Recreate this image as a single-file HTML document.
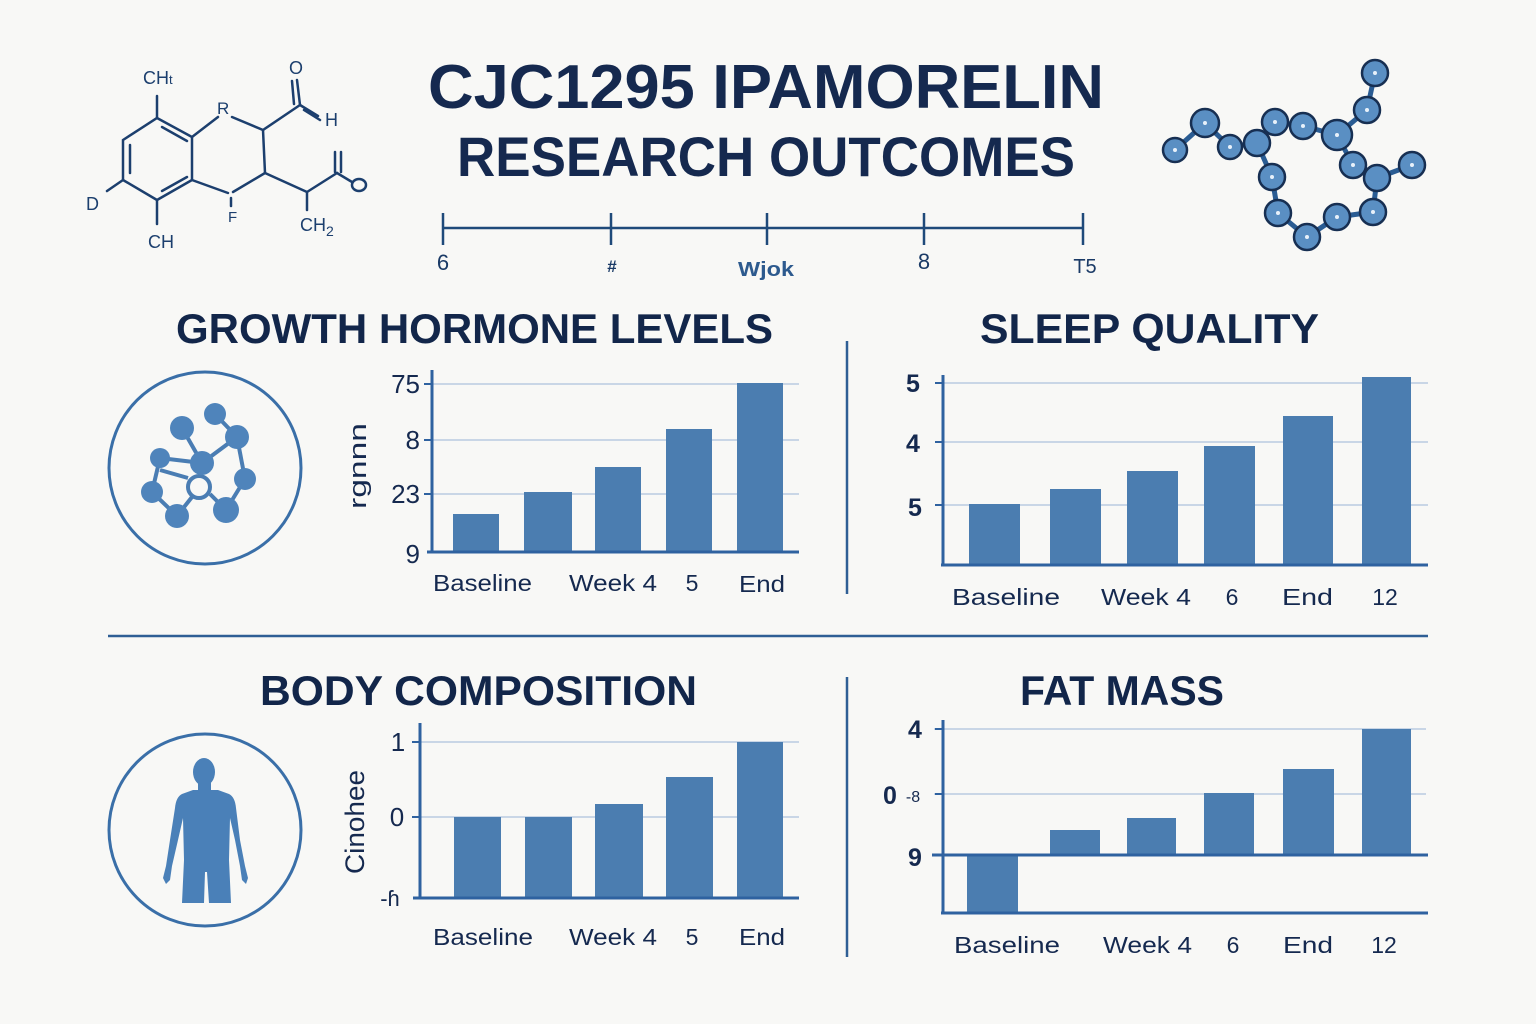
<!DOCTYPE html>
<html><head><meta charset="utf-8"><style>
html,body{margin:0;padding:0;background:#f8f8f6;}
svg{display:block;}
text{font-family:"Liberation Sans",sans-serif;}
</style></head><body>
<svg width="1536" height="1024" viewBox="0 0 1536 1024" xmlns="http://www.w3.org/2000/svg">
<rect width="1536" height="1024" fill="#f8f8f6"/>

<!-- Title -->
<text x="428" y="108" font-size="62" font-weight="bold" fill="#15294f" textLength="676" lengthAdjust="spacingAndGlyphs">CJC1295 IPAMORELIN</text>
<text x="457" y="176" font-size="56" font-weight="bold" fill="#15294f" textLength="618" lengthAdjust="spacingAndGlyphs">RESEARCH OUTCOMES</text>

<!-- Timeline -->
<g stroke="#1f4a7a" stroke-width="2.5" fill="none">
<line x1="443" y1="228" x2="1083" y2="228"/>
<line x1="443" y1="213" x2="443" y2="245"/>
<line x1="611" y1="213" x2="611" y2="245"/>
<line x1="767" y1="213" x2="767" y2="245"/>
<line x1="924" y1="213" x2="924" y2="245"/>
<line x1="1083" y1="213" x2="1083" y2="245"/>
</g>
<g fill="#1a3a66" font-size="22" text-anchor="middle">
<text x="443" y="270">6</text>
<text x="612" y="272" font-size="17" font-weight="bold">#</text>
<text x="766" y="276" font-size="20" font-weight="bold" fill="#2d5a8e" textLength="56" lengthAdjust="spacingAndGlyphs">Wjok</text>
<text x="924" y="269">8</text>
<text x="1085" y="273" font-size="20">T5</text>
</g>

<!-- Top-left structural formula -->
<g stroke="#1c3f6e" stroke-width="2.5" fill="none" stroke-linecap="round">
<polygon points="157,118 192,137 192,180 157,200 123,180 123,140"/>
<line x1="130" y1="145" x2="130" y2="173"/>
<line x1="162" y1="127" x2="187" y2="141"/>
<line x1="162" y1="191" x2="187" y2="177"/>
<line x1="157" y1="118" x2="157" y2="96"/>
<line x1="123" y1="180" x2="107" y2="191"/>
<line x1="157" y1="200" x2="157" y2="224"/>
<line x1="192" y1="137" x2="218" y2="117"/>
<line x1="232" y1="117" x2="263" y2="130"/>
<line x1="263" y1="130" x2="265" y2="173"/>
<line x1="265" y1="173" x2="233" y2="192"/>
<line x1="192" y1="180" x2="228" y2="193"/>
<line x1="231" y1="198" x2="231" y2="206"/>
<line x1="263" y1="130" x2="300" y2="105"/>
<line x1="300" y1="105" x2="297" y2="80"/>
<line x1="294" y1="104" x2="292" y2="81"/>
<line x1="300" y1="105" x2="318" y2="116"/>
<line x1="304" y1="110" x2="320" y2="120"/>
<line x1="265" y1="173" x2="307" y2="192"/>
<line x1="307" y1="192" x2="307" y2="210"/>
<line x1="307" y1="192" x2="337" y2="173"/>
<line x1="335" y1="172" x2="335" y2="152"/>
<line x1="341" y1="172" x2="341" y2="152"/>
<line x1="337" y1="173" x2="352" y2="182"/>
<ellipse cx="359" cy="185" rx="7" ry="6"/>
</g>
<g fill="#1c3f6e" font-size="18">
<text x="143" y="84">CH<tspan font-size="13">t</tspan></text>
<text x="217" y="114" font-size="17">R</text>
<text x="289" y="74">O</text>
<text x="325" y="126">H</text>
<text x="86" y="210">D</text>
<text x="148" y="248">CH</text>
<text x="228" y="222" font-size="15">F</text>
<text x="300" y="231">CH<tspan font-size="14" dy="5">2</tspan></text>
</g>

<!-- Top-right molecule -->
<g stroke="#2a5c93" stroke-width="5" stroke-linecap="round">
<line x1="1375" y1="73" x2="1367" y2="110"/>
<line x1="1367" y1="110" x2="1337" y2="135"/>
<line x1="1205" y1="123" x2="1175" y2="150"/>
<line x1="1205" y1="123" x2="1230" y2="147"/>
<line x1="1230" y1="147" x2="1257" y2="143"/>
<line x1="1257" y1="143" x2="1275" y2="122"/>
<line x1="1275" y1="122" x2="1303" y2="126"/>
<line x1="1303" y1="126" x2="1337" y2="135"/>
<line x1="1337" y1="135" x2="1353" y2="165"/>
<line x1="1353" y1="165" x2="1377" y2="178"/>
<line x1="1377" y1="178" x2="1412" y2="165"/>
<line x1="1377" y1="178" x2="1373" y2="212"/>
<line x1="1257" y1="143" x2="1272" y2="177"/>
<line x1="1272" y1="177" x2="1278" y2="213"/>
<line x1="1278" y1="213" x2="1307" y2="237"/>
<line x1="1307" y1="237" x2="1337" y2="217"/>
<line x1="1337" y1="217" x2="1373" y2="212"/>
</g>
<g fill="#5a8fc3" stroke="#172f52" stroke-width="2.5">
<circle cx="1375" cy="73" r="13"/>
<circle cx="1367" cy="110" r="13"/>
<circle cx="1205" cy="123" r="14"/>
<circle cx="1175" cy="150" r="12"/>
<circle cx="1230" cy="147" r="12"/>
<circle cx="1257" cy="143" r="13"/>
<circle cx="1275" cy="122" r="13"/>
<circle cx="1303" cy="126" r="13"/>
<circle cx="1337" cy="135" r="15"/>
<circle cx="1353" cy="165" r="13"/>
<circle cx="1377" cy="178" r="13"/>
<circle cx="1412" cy="165" r="13"/>
<circle cx="1272" cy="177" r="13"/>
<circle cx="1278" cy="213" r="13"/>
<circle cx="1307" cy="237" r="13"/>
<circle cx="1337" cy="217" r="13"/>
<circle cx="1373" cy="212" r="13"/>
</g>
<g fill="#e8f1fa">
<circle cx="1375" cy="73" r="2"/><circle cx="1367" cy="110" r="2"/><circle cx="1205" cy="123" r="2"/>
<circle cx="1175" cy="150" r="2"/><circle cx="1230" cy="147" r="2"/><circle cx="1275" cy="122" r="2"/>
<circle cx="1303" cy="126" r="2"/><circle cx="1337" cy="135" r="2"/><circle cx="1353" cy="165" r="2"/>
<circle cx="1412" cy="165" r="2"/><circle cx="1272" cy="177" r="2"/><circle cx="1278" cy="213" r="2"/>
<circle cx="1307" cy="237" r="2"/><circle cx="1337" cy="217" r="2"/><circle cx="1373" cy="212" r="2"/>
</g>

<!-- Section headings -->
<g fill="#12264a" font-weight="bold" font-size="42">
<text x="176" y="343" textLength="597" lengthAdjust="spacingAndGlyphs">GROWTH HORMONE LEVELS</text>
<text x="980" y="343" textLength="339" lengthAdjust="spacingAndGlyphs">SLEEP QUALITY</text>
<text x="260" y="705" textLength="437" lengthAdjust="spacingAndGlyphs">BODY COMPOSITION</text>
<text x="1020" y="705" textLength="204" lengthAdjust="spacingAndGlyphs">FAT MASS</text>
</g>

<!-- Dividers -->
<g stroke="#2f5f95" stroke-width="2.5">
<line x1="847" y1="341" x2="847" y2="594"/>
<line x1="108" y1="636" x2="1428" y2="636"/>
<line x1="847" y1="677" x2="847" y2="957"/>
</g>

<!-- Circle icon 1: molecule -->
<circle cx="205" cy="468" r="96" fill="none" stroke="#3a6fa8" stroke-width="3"/>
<g stroke="#4a7db3" stroke-width="4" fill="none">
<line x1="160" y1="458" x2="202" y2="463"/>
<line x1="182" y1="428" x2="202" y2="463"/>
<line x1="237" y1="437" x2="202" y2="463"/>
<line x1="215" y1="414" x2="237" y2="437"/>
<line x1="237" y1="437" x2="245" y2="479"/>
<line x1="160" y1="458" x2="152" y2="492"/>
<line x1="152" y1="492" x2="177" y2="516"/>
<line x1="177" y1="516" x2="192" y2="497"/>
<line x1="160" y1="470" x2="188" y2="478"/>
<line x1="210" y1="494" x2="226" y2="510"/>
<line x1="245" y1="479" x2="226" y2="510"/>
<circle cx="199" cy="487" r="11"/>
</g>
<g fill="#4f84bb">
<circle cx="215" cy="414" r="11"/>
<circle cx="182" cy="428" r="12"/>
<circle cx="237" cy="437" r="12"/>
<circle cx="160" cy="458" r="10"/>
<circle cx="202" cy="463" r="12"/>
<circle cx="245" cy="479" r="11"/>
<circle cx="152" cy="492" r="11"/>
<circle cx="177" cy="516" r="12"/>
<circle cx="226" cy="510" r="13"/>
</g>

<!-- Circle icon 2: body -->
<circle cx="205" cy="830" r="96" fill="none" stroke="#3a6fa8" stroke-width="3"/>
<g fill="#4a80b8">
<ellipse cx="204" cy="772" rx="11" ry="14"/>
<rect x="198" y="780" width="13" height="14"/>
<path d="M193 790 L182 794 Q176 797 175 808 L170 840 L166 866 L163 878 L166 884 L170 880 L172 866 L178 840 L183 818 L184 860 L182 903 L204 903 L205 872 L207 872 L209 903 L231 903 L229 860 L230 818 L235 840 L240 866 L242 880 L246 884 L248 878 L245 866 L240 840 L236 808 Q235 797 229 794 L218 790 Z"/>
</g>

<!-- ===== GH chart ===== -->
<g stroke="#c9d6e6" stroke-width="2">
<line x1="431" y1="384" x2="799" y2="384"/>
<line x1="431" y1="440" x2="799" y2="440"/>
<line x1="431" y1="494" x2="799" y2="494"/>
</g>
<g fill="#4b7db0">
<rect x="453" y="514" width="46" height="38"/>
<rect x="524" y="492" width="48" height="60"/>
<rect x="595" y="467" width="46" height="85"/>
<rect x="666" y="429" width="46" height="123"/>
<rect x="737" y="383" width="46" height="169"/>
</g>
<g stroke="#2f62a0" stroke-width="3">
<line x1="432" y1="370" x2="432" y2="553"/>
<line x1="427" y1="552" x2="799" y2="552"/>
</g>
<g stroke="#2f62a0" stroke-width="2">
<line x1="424" y1="384" x2="432" y2="384"/>
<line x1="424" y1="440" x2="432" y2="440"/>
<line x1="424" y1="494" x2="432" y2="494"/>
</g>
<g fill="#15294f" font-size="26" text-anchor="end">
<text x="420" y="393">75</text>
<text x="420" y="449">8</text>
<text x="420" y="503">23</text>
<text x="420" y="563">9</text>
</g>
<text transform="translate(366,466) rotate(-90)" font-size="24" fill="#15294f" text-anchor="middle" textLength="86" lengthAdjust="spacingAndGlyphs">rgnnn</text>
<g fill="#15294f" font-size="23">
<text x="433" y="591" textLength="99" lengthAdjust="spacingAndGlyphs">Baseline</text>
<text x="569" y="591" textLength="88" lengthAdjust="spacingAndGlyphs">Week 4</text>
<text x="692" y="591" text-anchor="middle">5</text>
<text x="739" y="592" textLength="46" lengthAdjust="spacingAndGlyphs">End</text>
</g>

<!-- ===== Sleep chart ===== -->
<g stroke="#c9d6e6" stroke-width="2">
<line x1="942" y1="383" x2="1428" y2="383"/>
<line x1="942" y1="442" x2="1428" y2="442"/>
<line x1="942" y1="505" x2="1428" y2="505"/>
</g>
<g fill="#4b7db0">
<rect x="969" y="504" width="51" height="61"/>
<rect x="1050" y="489" width="51" height="76"/>
<rect x="1127" y="471" width="51" height="94"/>
<rect x="1204" y="446" width="51" height="119"/>
<rect x="1283" y="416" width="50" height="149"/>
<rect x="1362" y="377" width="49" height="188"/>
</g>
<g stroke="#2f62a0" stroke-width="3">
<line x1="943" y1="375" x2="943" y2="566"/>
<line x1="941" y1="565" x2="1428" y2="565"/>
</g>
<g stroke="#2f62a0" stroke-width="2">
<line x1="935" y1="383" x2="943" y2="383"/>
<line x1="935" y1="442" x2="943" y2="442"/>
<line x1="935" y1="505" x2="943" y2="505"/>
</g>
<g fill="#15294f" font-size="25" font-weight="bold" text-anchor="middle">
<text x="913" y="392">5</text>
<text x="913" y="452">4</text>
<text x="915" y="516">5</text>
</g>
<g fill="#15294f" font-size="23">
<text x="952" y="605" textLength="108" lengthAdjust="spacingAndGlyphs">Baseline</text>
<text x="1101" y="605" textLength="90" lengthAdjust="spacingAndGlyphs">Week 4</text>
<text x="1232" y="605" text-anchor="middle">6</text>
<text x="1282" y="605" textLength="51" lengthAdjust="spacingAndGlyphs">End</text>
<text x="1385" y="605" text-anchor="middle">12</text>
</g>

<!-- ===== Body composition chart ===== -->
<g stroke="#c9d6e6" stroke-width="2">
<line x1="419" y1="742" x2="799" y2="742"/>
<line x1="419" y1="817" x2="799" y2="817"/>
</g>
<g fill="#4b7db0">
<rect x="454" y="817" width="47" height="81"/>
<rect x="525" y="817" width="47" height="81"/>
<rect x="595" y="804" width="48" height="94"/>
<rect x="666" y="777" width="47" height="121"/>
<rect x="737" y="742" width="46" height="156"/>
</g>
<g stroke="#2f62a0" stroke-width="3">
<line x1="420" y1="723" x2="420" y2="899"/>
<line x1="413" y1="898" x2="799" y2="898"/>
</g>
<g stroke="#2f62a0" stroke-width="2">
<line x1="412" y1="742" x2="420" y2="742"/>
<line x1="412" y1="817" x2="420" y2="817"/>
</g>
<g fill="#15294f" font-size="26" text-anchor="middle">
<text x="398" y="751">1</text>
<text x="397" y="826">0</text>
<text x="390" y="906" font-size="22">-ɦ</text>
</g>
<text transform="translate(364,822) rotate(-90)" font-size="27" fill="#15294f" text-anchor="middle" textLength="104" lengthAdjust="spacingAndGlyphs">Cinohee</text>
<g fill="#15294f" font-size="23">
<text x="433" y="945" textLength="100" lengthAdjust="spacingAndGlyphs">Baseline</text>
<text x="569" y="945" textLength="88" lengthAdjust="spacingAndGlyphs">Week 4</text>
<text x="692" y="945" text-anchor="middle">5</text>
<text x="739" y="945" textLength="46" lengthAdjust="spacingAndGlyphs">End</text>
</g>

<!-- ===== Fat mass chart ===== -->
<g stroke="#c9d6e6" stroke-width="2">
<line x1="934" y1="729" x2="1426" y2="729"/>
<line x1="934" y1="794" x2="1426" y2="794"/>
</g>
<g fill="#4b7db0">
<rect x="967" y="855" width="51" height="58"/>
<rect x="1050" y="830" width="50" height="25"/>
<rect x="1127" y="818" width="49" height="37"/>
<rect x="1204" y="793" width="50" height="62"/>
<rect x="1283" y="769" width="51" height="86"/>
<rect x="1362" y="729" width="49" height="126"/>
</g>
<g stroke="#2f62a0" stroke-width="3">
<line x1="943" y1="720" x2="943" y2="914"/>
<line x1="941" y1="913" x2="1428" y2="913"/>
<line x1="932" y1="855" x2="1428" y2="855"/>
</g>
<g stroke="#2f62a0" stroke-width="2">
<line x1="935" y1="729" x2="943" y2="729"/>
<line x1="935" y1="794" x2="943" y2="794"/>
</g>
<g fill="#15294f" font-size="25" font-weight="bold" text-anchor="middle">
<text x="915" y="738">4</text>
<text x="890" y="804">0</text>
<text x="913" y="802" font-size="16" font-weight="normal">-8</text>
<text x="915" y="866">9</text>
</g>
<g fill="#15294f" font-size="23">
<text x="954" y="953" textLength="106" lengthAdjust="spacingAndGlyphs">Baseline</text>
<text x="1103" y="953" textLength="89" lengthAdjust="spacingAndGlyphs">Week 4</text>
<text x="1233" y="953" text-anchor="middle">6</text>
<text x="1283" y="953" textLength="50" lengthAdjust="spacingAndGlyphs">End</text>
<text x="1384" y="953" text-anchor="middle">12</text>
</g>
</svg>
</body></html>
